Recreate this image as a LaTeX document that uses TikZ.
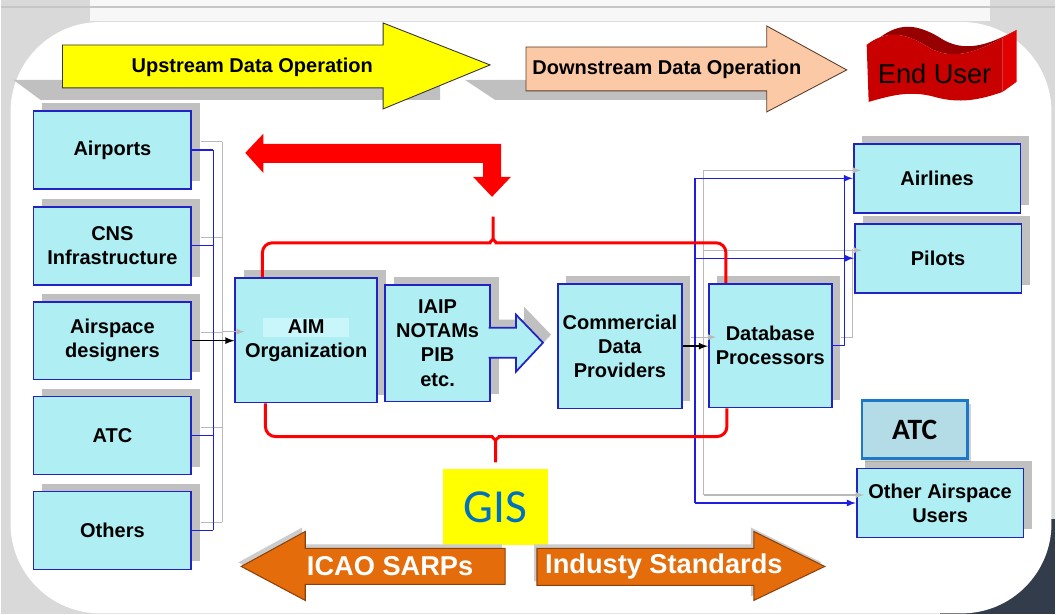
\documentclass[tikz,border=0pt]{standalone}
\usepackage{fontspec}
\setmainfont{Liberation Sans}
\newfontfamily\gisfont{Carlito}
\usetikzlibrary{shapes, positioning, calc, shadows}

\definecolor{boxfill}{RGB}{175,238,242}
\definecolor{boxline}{RGB}{35,35,195}
\definecolor{linkblue}{RGB}{30,30,225}
\definecolor{shadowgray}{RGB}{192,192,192}
\definecolor{upyellow}{RGB}{255,255,0}
\definecolor{downpeach}{RGB}{252,201,166}
\definecolor{peachedge}{RGB}{95,60,40}
\definecolor{sarporange}{RGB}{228,108,10}
\definecolor{sarpedge}{RGB}{140,65,10}
\definecolor{gisblue}{RGB}{0,112,192}
\definecolor{atcfill}{RGB}{180,220,230}
\definecolor{atcline}{RGB}{30,120,200}
\definecolor{userfront}{RGB}{200,0,0}
\definecolor{usertop}{RGB}{150,0,0}
\definecolor{userside}{RGB}{225,0,0}
\definecolor{aimlight}{RGB}{200,246,250}
\definecolor{darkphoto}{RGB}{50,60,75}

\begin{document}
\begin{tikzpicture}[x=0.02cm, y=-0.02cm,
    databox/.style={draw=boxline, fill=boxfill, line width=1pt, align=center,
        inner sep=1pt, font=\fontsize{11.4}{13.7}\selectfont\bfseries,
        general shadow={fill=shadowgray, shadow xshift=0.17cm, shadow yshift=0.16cm}},
    leftbox/.style={databox, minimum width=3.16cm, minimum height=1.56cm},
    userbox/.style={databox, minimum width=3.34cm, minimum height=1.38cm},
    bluelink/.style={draw=linkblue, line width=0.75pt},
    graylink/.style={draw=gray!55, line width=0.6pt},
    blacklink/.style={draw=black, line width=0.8pt},
    redbrace/.style={draw=red, line width=1.7pt, rounded corners=0.2cm},
    flowtext/.style={font=\fontsize{11.4}{13.7}\selectfont\bfseries},
    stdtext/.style={font=\fontsize{15.5}{18}\selectfont\bfseries, text=white},
    stdarrow/.style={fill=sarporange, draw=sarpedge, line width=0.6pt}
]

% background panel
\fill[gray!30] (0,0) rectangle (1056,615);
\fill[gray!6] (90,0) rectangle (990,21);
\draw[gray!45, line width=0.6pt] (0,7) -- (1056,7);
\fill[darkphoto] (940,520) rectangle (1056,615);
\fill[white, rounded corners=1.8cm] (10,22) rectangle (1052,614);
\useasboundingbox (0,0) rectangle (1056,615);

% top flow arrows
%% upstream
\fill[shadowgray] (13,80) -- (440,80) -- (440,100) -- (40,100) -- cycle;
\filldraw[fill=upyellow, draw=black!80, line width=0.5pt] (62,45) -- (383,45) -- (383,23)
    -- (490,65) -- (383,109) -- (383,88) -- (62,88) -- cycle;
\node[flowtext] (upstream) at (252,67) {Upstream Data Operation};

%% downstream
\fill[shadowgray] (465,80) -- (790,80) -- (790,100) -- (495,100) -- cycle;
\filldraw[fill=downpeach, draw=peachedge, line width=0.5pt] (526,47) -- (767,47) -- (767,26)
    -- (847,70) -- (767,112) -- (767,91) -- (526,91) -- cycle;
\node[flowtext] (downstream) at (667,69) {Downstream Data Operation};

%% end user wave
\fill[usertop] (867,45) .. controls (887,30) and (905,32) .. (930,48)
    .. controls (955,62) and (980,50) .. (1003,38) -- (1017,30)
    .. controls (994,42) and (969,54) .. (944,40)
    .. controls (919,24) and (901,22) .. (881,37) -- cycle;
\fill[userside] (1003,38) -- (1017,30) -- (1017,82) -- (1003,92) -- cycle;
\fill[userfront] (867,45) .. controls (887,30) and (905,32) .. (930,48)
    .. controls (955,62) and (980,50) .. (1003,38) -- (1003,92)
    .. controls (980,100) and (960,104) .. (935,97)
    .. controls (910,90) and (890,96) .. (869,102) -- cycle;
\node[font=\fontsize{15.5}{18}\selectfont] (enduser) at (935,74) {End User};

% feedback arrow
\fill[red] (245,153) -- (263,134) -- (263,144) -- (501,144) -- (501,177) -- (511,177)
    -- (492,197) -- (473,177) -- (483,177) -- (483,163) -- (263,163) -- (263,173) -- cycle;

% data originators
\foreach \name/\ypos/\txt in {airports/150/Airports, cns/246/{CNS\\Infrastructure},
    airspace/341/{Airspace\\designers}, atc/436/ATC, others/531/Others}
    \node[leftbox] (\name) at (112,\ypos) {\txt};

% processing chain
\node[databox, minimum width=2.84cm, minimum height=2.5cm] (aim) at (306,340.5)
    {{\setlength{\fboxsep}{0pt}\colorbox{aimlight}{\makebox[1.72cm]{\rule[-0.07cm]{0pt}{0.38cm}AIM}}}\\Organization};
\node[databox, minimum width=2.1cm, minimum height=2.34cm] (iaip) at (437.5,343.5)
    {IAIP\\NOTAMs\\PIB\\etc.};
\fill[shadowgray] (497,320) -- (524,320) -- (524,307) -- (551,335) -- (524,364) -- (524,350) -- (497,350) -- cycle;
\filldraw[fill=boxfill, draw=boxline, line width=1pt] (488.5,328) -- (516,328) -- (516,315)
    -- (543,343) -- (516,372) -- (516,358) -- (488.5,358);
\node[databox, minimum width=2.48cm, minimum height=2.5cm] (commercial) at (620,346.5)
    {Commercial\\Data\\Providers};
\node[databox, minimum width=2.46cm, minimum height=2.48cm] (database) at (770.5,346)
    {Database\\Processors};

% end users
\node[userbox] (airlines) at (937.5,178.5) {Airlines};
\node[userbox] (pilots) at (938.5,258.5) {Pilots};
\node[userbox] (otherusers) at (940.5,503.5) {Other Airspace\\Users};
\node[draw=atcline, fill=atcfill, line width=1.3pt, minimum width=2.12cm, minimum height=1.16cm,
    font=\gisfont\fontsize{16.8}{18}\selectfont\bfseries,
    drop shadow={shadow xshift=0.07cm, shadow yshift=-0.07cm, opacity=0.35}] (atcuser) at (915,430) {ATC};

% left connectors
\coordinate (leftbus) at (213,0);
\coordinate (leftgray) at (222,0);
\draw[graylink] ($(airports.east -| leftgray)+(0,-8)$) -- ($(others.east -| leftgray)+(0,-8)$);
\foreach \name in {airports,cns,airspace,atc,others}
    \draw[graylink] ($(\name.east)+(9,-8)$) -- ($(\name.east -| leftgray)+(0,-8)$);
\draw[graylink, -latex] ($(airspace.east -| leftgray)+(0,-9)$) -- ($(airspace.east -| aim.west)+(10,-9)$);
\draw[bluelink] (airports.east -| leftbus) -- (others.east -| leftbus);
\foreach \name in {airports,cns,airspace,atc,others}
    \draw[bluelink] (\name.east) -- (\name.east -| leftbus);
\draw[blacklink, -latex] (airspace.east) -- (airspace.east -| aim.west);

% right connectors
\coordinate (rightbus) at (695,0);
\coordinate (rightgray) at (704,0);
\draw[graylink] ($(airlines.west -| rightgray)+(0,-8)$) -- ($(otherusers.west -| rightgray)+(0,-8)$);
\foreach \name in {airlines,pilots,otherusers}
    \draw[graylink, -latex] ($(\name.west -| rightgray)+(0,-8)$) -- ($(\name.west)+(8,-8)$);
\draw[graylink, -latex] ($(commercial.east)+(8,-9)$) -- ($(commercial.east -| database.west)+(8,-9)$);
\draw[graylink] ($(database.east)+(8,-8)$) -| ($(pilots.west -| database.east)+(20,-9)$);
\draw[bluelink] (airlines.west -| rightbus) -- (otherusers.west -| rightbus);
\foreach \name in {airlines,pilots,otherusers}
    \draw[bluelink, -latex] (\name.west -| rightbus) -- (\name.west);
\draw[bluelink] (database.east) -| ($(airlines.west -| database.east)+(12,0)$);
\draw[blacklink, -latex] (commercial.east) -- (commercial.east -| database.west);

% GIS braces
\node[fill=upyellow, minimum width=2.1cm, minimum height=1.54cm, text=gisblue,
    font=\gisfont\fontsize{27}{30}\selectfont] (gis) at (495.5,507.5) {GIS};
\draw[redbrace] ($(aim.north west)+(28,0)$) |- (480,243)
    .. controls (489,243) and (493,240) .. (493,229) -- (493,211) -- (493,229)
    .. controls (493,240) and (497,243) .. (506,243) -| ($(database.north west)+(18,0)$);
\draw[redbrace] ($(aim.south west)+(31,0)$) |- (482,437)
    .. controls (491,437) and (495.5,440) .. (495.5,451) -- (gis.north) -- (495.5,451)
    .. controls (495.5,440) and (500,437) .. (509,437) -| ($(database.south west)+(19,0)$);

% standards arrows
\fill[gray!40] (238,563) -- (302,528) -- (302,545) -- (502,545) -- (502,581) -- (302,581) -- (302,597) -- cycle;
\filldraw[stdarrow] (241,567) -- (305,532) -- (305,549) -- (505,549) -- (505,585) -- (305,585) -- (305,601) -- cycle;
\node[stdtext] (sarps) at (390,567) {ICAO SARPs};
\fill[gray!40] (534,545) -- (751,545) -- (751,528) -- (822,563) -- (751,597) -- (751,582) -- (534,582) -- cycle;
\filldraw[stdarrow] (537,549) -- (754,549) -- (754,532) -- (825,567) -- (754,601) -- (754,586) -- (537,586) -- cycle;
\node[stdtext] (industry) at (664,567) {Industy Standards};

\end{tikzpicture}
\end{document}
